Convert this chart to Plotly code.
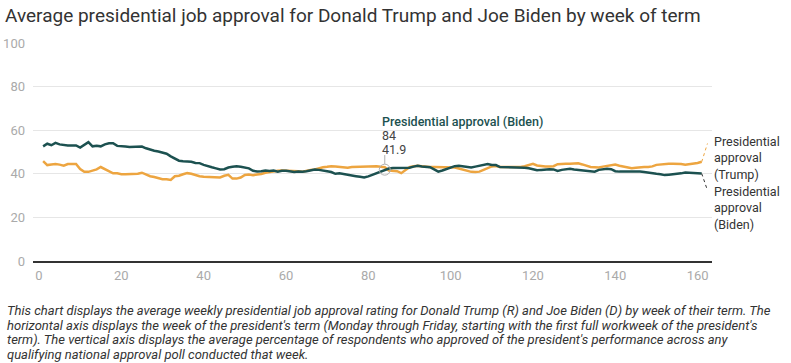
import plotly.graph_objects as go

weeks = list(range(1, 162))

biden = [
    52.6, 53.8, 53.1, 54.2, 53.5, 53.1, 53.0, 53.0, 53.0, 52.0,
    53.4, 54.5, 52.6, 52.9, 52.6, 53.5, 54.0, 54.0, 52.8, 52.8,
    52.5, 52.3, 52.3, 52.3, 52.5, 51.7, 51.0, 50.6, 50.2, 49.8,
    49.2, 48.0, 46.9, 46.0, 45.8, 45.8, 45.5, 45.0, 44.9, 44.1,
    43.7, 43.0, 42.5, 42.0, 42.1, 42.9, 43.2, 43.5, 43.2, 43.0,
    42.5, 41.4, 41.1, 41.2, 41.5, 41.3, 41.5, 41.0, 41.4, 41.4,
    41.0, 40.8, 41.0, 40.9, 41.2, 41.5, 42.0, 41.8, 41.6, 41.2,
    40.8, 40.0, 40.2, 39.8, 39.5, 39.1, 38.9, 38.6, 38.3, 38.8,
    39.5, 40.3, 41.0, 41.9, 42.4, 42.7, 42.8, 42.8, 42.8, 42.8,
    43.3, 43.7, 43.4, 43.3, 43.0, 42.0, 41.0, 41.5, 42.2, 42.8,
    43.5, 43.7, 43.5, 43.1, 42.9, 43.3, 43.7, 44.3, 44.5, 44.0,
    44.0, 43.1, 43.1, 43.1, 43.1, 43.1, 43.0, 42.8, 42.5, 42.0,
    41.6, 41.8, 42.0, 42.1, 42.0, 41.3, 41.8, 42.1, 42.3, 42.0,
    41.8, 41.5, 41.4, 41.1, 41.0, 41.8, 42.2, 42.3, 42.1, 41.2,
    41.0, 41.0, 41.0, 41.2, 41.0, 41.0, 40.8, 40.5, 40.0, 40.0,
    39.8, 39.4, 39.6, 39.8, 39.8, 40.2, 40.6, 40.5, 40.2, 40.2,
    40.1,
]

trump = [
    45.8, 44.0, 44.3, 44.5, 44.2, 43.7, 44.5, 44.5, 44.5, 42.2,
    40.9, 40.9, 41.5, 42.0, 43.1, 42.2, 41.1, 40.2, 40.2, 39.8,
    39.8, 39.8, 39.8, 40.0, 40.5, 39.7, 38.9, 38.5, 38.0, 37.5,
    37.5, 37.2, 38.9, 39.1, 39.8, 40.3, 40.0, 39.4, 38.9, 38.6,
    38.5, 38.5, 38.5, 38.3, 39.1, 39.5, 37.8, 37.8, 38.3, 39.5,
    39.7, 39.4, 39.7, 39.9, 40.5, 40.9, 41.2, 41.4, 41.5, 41.5,
    41.5, 41.5, 41.2, 41.0, 41.5, 41.8, 42.0, 42.6, 43.0, 43.2,
    43.5, 43.4, 43.2, 42.8, 42.8, 43.1, 43.2, 43.2, 43.4, 43.4,
    43.4, 43.5, 43.2, 43.0, 41.5, 41.3, 41.2, 40.3, 41.5, 43.0,
    43.5, 43.7, 43.5, 43.2, 43.1, 43.1, 43.1, 43.0, 42.9, 42.9,
    42.9, 42.4, 41.9, 41.3, 40.9, 40.8, 41.0, 41.8, 42.5, 43.4,
    43.6, 43.1, 43.1, 43.1, 43.1, 43.1, 43.1, 43.5, 44.2, 44.6,
    43.8, 43.5, 43.3, 43.3, 43.5, 44.4, 44.6, 44.6, 44.6, 44.7,
    44.8, 44.3, 43.6, 43.1, 43.0, 42.9, 43.3, 43.6, 44.1, 44.2,
    43.7, 43.3, 43.0, 42.6, 42.8, 43.1, 43.1, 43.1, 43.4, 44.1,
    44.3, 44.6, 44.6, 44.6, 44.6, 44.5, 44.2, 44.4, 44.5, 45.0,
    45.5,
]

x_ticks = [0, 20, 40, 60, 80, 100, 120, 140, 160]
y_ticks = [0, 20, 40, 60, 80, 100]

title_text = "Average presidential job approval for Donald Trump and Joe Biden by week of term"
trump_label = "Presidential<br>approval<br>(Trump)"
biden_label = "Presidential<br>approval<br>(Biden)"
hover_series = "Presidential approval (Biden)"
hover_week = 84
hover_value = 41.9
caption_lines = [
    "This chart displays the average weekly presidential job approval rating for Donald Trump (R) and Joe Biden (D) by week of their term. The",
    "horizontal axis displays the week of the president's term (Monday through Friday, starting with the first full workweek of the president's",
    "term). The vertical axis displays the average percentage of respondents who approved of the president's performance across any",
    "qualifying national approval poll conducted that week.",
]

BIDEN = "#1c5150"
TRUMP = "#eda540"
FONT = "Roboto"

fig = go.Figure()
fig.add_trace(go.Scatter(x=weeks, y=trump, mode="lines", line=dict(color=TRUMP, width=2.5),
                         name="Presidential approval (Trump)", showlegend=False, hoverinfo="skip"))
fig.add_trace(go.Scatter(x=weeks, y=biden, mode="lines", line=dict(color=BIDEN, width=2.5),
                         name="Presidential approval (Biden)", showlegend=False, hoverinfo="skip"))
# hover marker
fig.add_trace(go.Scatter(x=[hover_week], y=[hover_value], mode="markers",
                         marker=dict(size=11, color="rgba(255,255,255,0)", line=dict(color="#b0b0b0", width=1)),
                         showlegend=False, hoverinfo="skip"))

# hover leader line
fig.add_shape(type="line", xref="x", yref="y", x0=hover_week, x1=hover_week,
              y0=hover_value + 2.6, y1=48.6, line=dict(color="#b0b0b0", width=1))

# dotted leaders to end labels
fig.add_shape(type="line", xref="x", yref="y", x0=weeks[-1], y0=trump[-1], x1=162.4, y1=53.9,
              line=dict(color=TRUMP, width=1, dash="dot"))
fig.add_shape(type="line", xref="x", yref="y", x0=weeks[-1], y0=biden[-1], x1=162.4, y1=32.4,
              line=dict(color="#333333", width=1, dash="dot"))

ann = []
ann.append(dict(xref="paper", yref="y", x=1, y=47.1, xanchor="left", yanchor="middle",
                text=trump_label, showarrow=False, align="left",
                font=dict(family=FONT, size=12.5, color="#333333")))
ann.append(dict(xref="paper", yref="y", x=1, y=24.2, xanchor="left", yanchor="middle",
                text=biden_label, showarrow=False, align="left",
                font=dict(family=FONT, size=12.5, color="#333333")))
ann.append(dict(xref="x", yref="y", x=hover_week, y=64.2, xanchor="left", yanchor="middle",
                xshift=-5, text=hover_series, showarrow=False,
                font=dict(family=FONT, size=12.5, color=BIDEN, weight=500)))
ann.append(dict(xref="x", yref="y", x=hover_week, y=57.7, xanchor="left", yanchor="middle",
                xshift=-5, text=str(hover_week), showarrow=False,
                font=dict(family=FONT, size=12.5, color="#444444")))
ann.append(dict(xref="x", yref="y", x=hover_week, y=51.1, xanchor="left", yanchor="middle",
                xshift=-5, text=str(hover_value), showarrow=False,
                font=dict(family=FONT, size=12.5, color="#444444")))
caption_shifts = [-49, -64, -78.5, -93]
for line, ys in zip(caption_lines, caption_shifts):
    ann.append(dict(xref="paper", yref="paper", x=0, y=0, xanchor="left", yanchor="middle",
                    xshift=-28, yshift=ys, text=line, showarrow=False, align="left",
                    font=dict(family=FONT, size=13, color="#333333", style="italic")))

fig.update_layout(
    width=791, height=363,
    margin=dict(l=33, r=79, t=43, b=102),
    paper_bgcolor="white", plot_bgcolor="white",
    hovermode=False,
    title=dict(text=title_text, x=5 / 791, xanchor="left", xref="container",
               y=1 - 15 / 363, yanchor="middle", yref="container",
               font=dict(family=FONT, size=19, color="#333333"), automargin=False),
    xaxis=dict(range=[-1.46, 163.5], tickvals=x_ticks, showgrid=False, zeroline=False,
               showline=True, linecolor="#333333", linewidth=1.5, ticks="", ticklabelstandoff=2,
               automargin=False,
               tickfont=dict(family=FONT, size=13, color="#aaaaaa")),
    yaxis=dict(range=[0, 100], tickvals=y_ticks, showgrid=True, gridcolor="#e6e6e6", gridwidth=1,
               zeroline=False, ticks="", ticklabelstandoff=7, automargin=False,
               tickfont=dict(family=FONT, size=13, color="#aaaaaa")),
    annotations=ann,
    showlegend=False,
)

fig.write_html("out.html", config={"displayModeBar": False},
               post_script="document.body.style.margin='0';")
